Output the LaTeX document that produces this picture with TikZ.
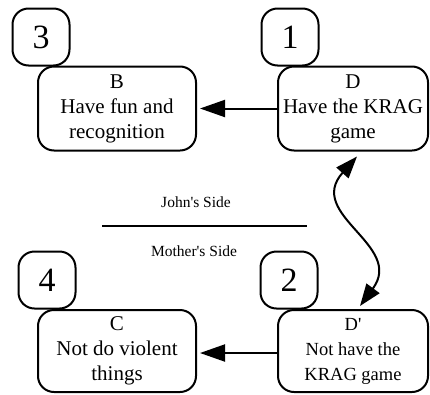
\documentclass[tikz,border=0pt]{standalone}
\usepackage{fontspec}
\setmainfont{Liberation Serif}
\usetikzlibrary{arrows.meta}

\begin{document}
\begin{tikzpicture}[
      x=1pt, y=-1pt,
      line width=2pt,
      goal/.style={
        draw,
        rounded corners=16pt,
        align=center,
        font=\fontsize{21}{25}\selectfont,
        minimum height=84pt,
        inner sep=1pt
      },
      rank/.style={
        draw,
        rounded corners=16pt,
        minimum width=57pt,
        minimum height=57pt,
        font=\fontsize{34}{34}\selectfont
      },
      tip/.style={-{Triangle[length=25pt,width=17pt]}},
      side/.style={font=\fontsize{15.5}{17}\selectfont}
    ]
      \useasboundingbox (0,0) rectangle (430,394);

      \node (r3) at (41,37) [rank]{3};
      \node (r1) at (290,37) [rank]{1};
      \node (r4) at (47,280) [rank]{4};
      \node (r2) at (289,280) [rank]{2};

      \node (b) at (117,108.5) [goal,minimum width=158pt]{B\\Have fun and\\recognition};
      \node (d) at (353,108.5) [goal,minimum width=150pt]{D\\Have the KRAG\\game};
      \node (c) at (117,351) [goal,minimum width=158pt,minimum height=82pt]{C\\Not do violent\\things};
      \node (dp) at (353,351) [goal,minimum width=150pt,minimum height=82pt,font=\fontsize{18.5}{25}\selectfont]{D\textquotesingle\\Not have the\\KRAG game};

      \node (john) at (196,202) [side]{John\textquotesingle s Side};
      \node (mother) at (194,251) [side]{Mother\textquotesingle s Side};
      \coordinate (s1) at (102,226);
      \coordinate (s2) at (307,226);
      \draw[line width=1.4pt] (s1) -- (s2);

      \draw[tip] (d.west) -- ([xshift=3pt]b.east);
      \draw[tip] (dp.west |- 0,353) -- ([xshift=3pt]c.east |- 0,353);
      \draw[{Triangle[length=22pt,width=16pt]}-{Triangle[length=22pt,width=16pt]}]
        ([xshift=4pt,yshift=-5pt]d.south) .. controls (305,215) and (405,245) .. ([xshift=7pt,yshift=3pt]dp.north);

    \end{tikzpicture}
\end{document}
